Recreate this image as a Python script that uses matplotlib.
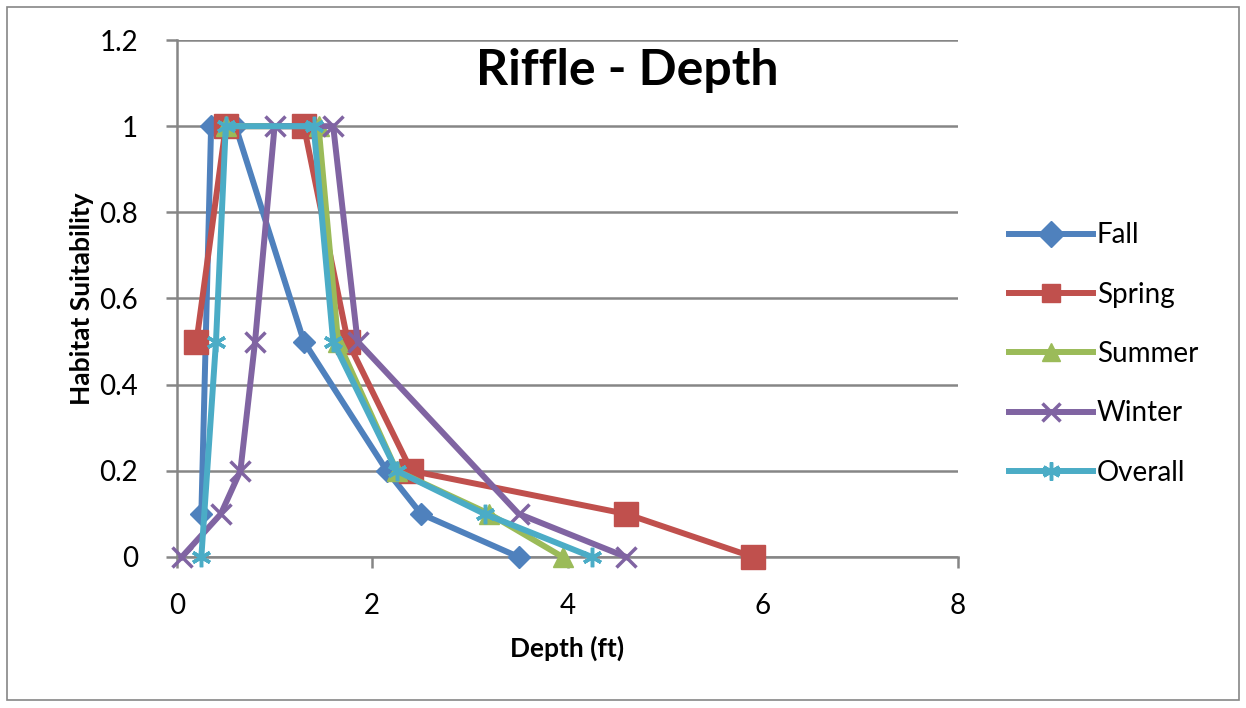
import matplotlib.pyplot as plt
from matplotlib.patches import Rectangle

plt.rcParams['font.family'] = ['Lato', 'DejaVu Sans']

# depth (ft) vs habitat suitability
fall_x = [0.25, 0.35, 0.6, 1.3, 2.15, 2.5, 3.5]
fall_y = [0.1, 1, 1, 0.5, 0.2, 0.1, 0]
spring_x = [0.2, 0.5, 1.3, 1.75, 2.4, 4.6, 5.9]
spring_y = [0.5, 1, 1, 0.5, 0.2, 0.1, 0]
summer_x = [0.5, 1.45, 1.65, 2.25, 3.2, 3.95]
summer_y = [1, 1, 0.5, 0.2, 0.1, 0]
winter_x = [0.05, 0.45, 0.65, 0.8, 1.0, 1.6, 1.85, 3.5, 4.6]
winter_y = [0, 0.1, 0.2, 0.5, 1, 1, 0.5, 0.1, 0]
overall_x = [0.25, 0.4, 0.5, 1.4, 1.6, 2.25, 3.15, 4.25]
overall_y = [0, 0.5, 1, 1, 0.5, 0.2, 0.1, 0]

fig = plt.figure(figsize=(12.46, 7.08), dpi=100)
ax = fig.add_axes([0.142, 0.2133, 0.627, 0.7302])

lw = 4.3
ax.plot(fall_x, fall_y, color='#4F81BD', lw=lw, marker='D', ms=11, label='Fall', zorder=3)
ax.plot(spring_x, spring_y, color='#C0504D', lw=lw, marker='s', ms=17, label='Spring', zorder=3)
ax.plot(summer_x, summer_y, color='#9BBB59', lw=lw, marker='^', ms=15, label='Summer', zorder=3)
ax.plot(winter_x, winter_y, color='#8064A2', lw=lw, marker='x', ms=14, mew=2.5, label='Winter', zorder=3)
ax.plot(overall_x, overall_y, color='#4BACC6', lw=lw, marker=(6, 2, 0), ms=14, mew=2.5, label='Overall', zorder=3)

ax.set_xlim(0, 8)
ax.set_ylim(0, 1.2)
ax.set_xticks([0, 2, 4, 6, 8])
ax.set_yticks([0, 0.2, 0.4, 0.6, 0.8, 1, 1.2])
ax.set_yticklabels(['0', '0.2', '0.4', '0.6', '0.8', '1', '1.2'])
ax.grid(axis='y', color='#868686', lw=1.8)
ax.set_axisbelow(True)
for s in ['top', 'right']:
    ax.spines[s].set_visible(False)
for s in ['left', 'bottom']:
    ax.spines[s].set_color('#868686')
    ax.spines[s].set_linewidth(1.8)
    ax.spines[s].set_zorder(1)
ax.tick_params(length=8, width=1.8, color='#868686', labelsize=20)
ax.tick_params(axis='x', pad=18)
ax.tick_params(axis='y', pad=20)
for line in ax.lines:
    line.set_clip_on(False)

ax.set_xlabel('Depth (ft)', fontsize=19, fontweight='bold', labelpad=12)
ax.set_ylabel('Habitat Suitability', fontsize=19, fontweight='bold', labelpad=4)
ax.text(0.577, 0.985, 'Riffle - Depth', transform=ax.transAxes, ha='center', va='top',
        fontsize=36, fontweight='bold')

leg = fig.legend(loc='center left', bbox_to_anchor=(0.79, 0.50), frameon=False, fontsize=20,
                 handlelength=3.0, labelspacing=1.2, handletextpad=0.15)
for h in leg.legend_handles:
    h.set_markersize(13)

fig.patches.append(Rectangle((0.006, 0.012), 0.988, 0.978, transform=fig.transFigure,
                             fill=False, edgecolor='#868686', lw=1.2))

fig.savefig('out.png', dpi=100)
